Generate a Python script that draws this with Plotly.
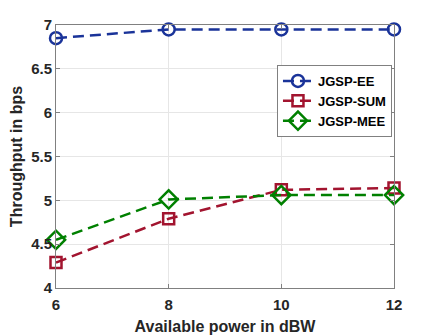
import plotly.graph_objects as go

# Data
power_dbw = [6, 8, 10, 12]
jgsp_ee = [6.85, 6.95, 6.95, 6.95]
jgsp_sum = [4.29, 4.79, 5.12, 5.14]
jgsp_mee = [4.55, 5.01, 5.06, 5.06]

x_ticks = [6, 8, 10, 12]
y_ticks = [4, 4.5, 5, 5.5, 6, 6.5, 7]
y_tick_labels = ["4", "4.5", "5", "5.5", "6", "6.5", "7"]

fig = go.Figure()

series = [
    ("JGSP-EE", jgsp_ee, "#1a3399", "circle-open", 12),
    ("JGSP-SUM", jgsp_sum, "#a2142f", "square-open", 11),
    ("JGSP-MEE", jgsp_mee, "#008000", "diamond-open", 14),
]

for name, vals, color, symbol, size in series:
    fig.add_trace(go.Scatter(
        x=power_dbw, y=vals, name=name,
        mode="lines+markers",
        line=dict(color=color, width=2.5, dash="11px,6px"),
        marker=dict(symbol=symbol, size=size, color=color,
                    line=dict(color=color, width=2.5)),
        cliponaxis=False,
    ))

axis_style = dict(
    showgrid=True, gridcolor="#e6e6e6", gridwidth=1,
    zeroline=False, automargin=False,
    showline=True, linecolor="#808080", linewidth=1,
    mirror="ticks", ticks="inside", ticklen=4, tickcolor="#808080",
    tickfont=dict(family="Liberation Sans", size=15, color="#262626", weight="bold"),
    title_font=dict(family="Liberation Sans", size=16, color="#262626", weight="bold"),
)

fig.update_xaxes(
    range=[6, 12], tickvals=x_ticks, ticklabelstandoff=3,
    title_text="Available power in dBW", title_standoff=8,
    **axis_style,
)
fig.update_yaxes(
    range=[4, 7], tickvals=y_ticks, ticktext=y_tick_labels,
    title_text="Throughput in bps", title_standoff=9,
    **axis_style,
)

fig.update_layout(
    width=436, height=335,
    margin=dict(l=48, r=50, t=17, b=55),
    plot_bgcolor="white", paper_bgcolor="white",
    showlegend=True,
    legend=dict(
        x=0.994, y=0.848, xanchor="right", yanchor="top",
        bgcolor="white", bordercolor="#808080", borderwidth=1,
        font=dict(family="Liberation Sans", size=13, color="black", weight="bold"),
        tracegroupgap=0, itemwidth=30,
    ),
)

fig.write_html("out.html")
